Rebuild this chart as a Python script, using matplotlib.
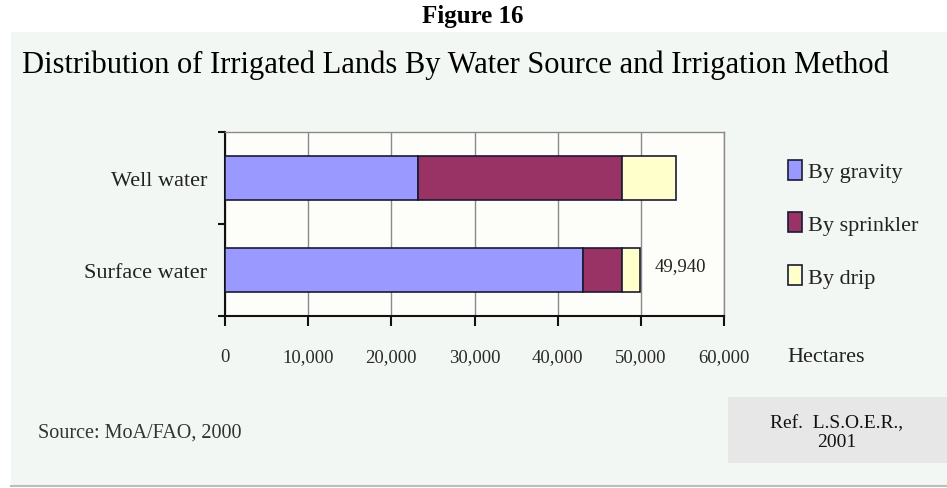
import matplotlib
matplotlib.use("Agg")
import matplotlib.pyplot as plt
from matplotlib.patches import Rectangle, Patch
from matplotlib.lines import Line2D
from matplotlib.ticker import FuncFormatter, FixedLocator

# Irrigated area (hectares) by water source and irrigation method
sources = ["Well water", "Surface water"]
methods = ["By gravity", "By sprinkler", "By drip"]
gravity = [23200, 43050]
sprinkler = [24500, 4650]
drip = [6500, 2240]
surface_total_label = "49,940"
x_ticks = [0, 10000, 20000, 30000, 40000, 50000, 60000]

colors = ["#9999FF", "#993366", "#FFFFCC"]
serif = ["Liberation Serif", "DejaVu Serif"]

W, H = 947, 489
fig = plt.figure(figsize=(W / 100, H / 100), dpi=100)
fig.patch.set_facecolor("white")


def fx(px):
    return px / W


def fy(py):
    return 1 - py / H


# light panel behind the chart
fig.patches.append(Rectangle((fx(11), fy(486)), fx(947) - fx(11), fy(33) - fy(486),
                             transform=fig.transFigure, facecolor="#F3F7F4",
                             edgecolor="none", zorder=-10))
fig.lines.append(Line2D([fx(11), 1], [fy(486.5), fy(486.5)], transform=fig.transFigure,
                        color="#BDBDBD", lw=1.5, zorder=-9))
# reference box
fig.patches.append(Rectangle((fx(728), fy(464)), fx(947) - fx(728), fy(398) - fy(464),
                             transform=fig.transFigure, facecolor="#E7E7E7",
                             edgecolor="none", zorder=-9))

ax = fig.add_axes([fx(225), fy(317), fx(724) - fx(225), fy(133) - fy(317)])
ax.set_zorder(1)
ax.set_facecolor("#FDFDF9")

ypos = [1, 0]
left = [0, 0]
for vals, col, lab in zip([gravity, sprinkler, drip], colors, methods):
    ax.barh(ypos, vals, left=left, height=0.48, color=col, edgecolor="#1A1A33",
            linewidth=1.2, label=lab, zorder=3)
    left = [a + b for a, b in zip(left, vals)]

ax.annotate(surface_total_label, xy=(left[1], ypos[1]), xytext=(10, 3),
            textcoords="offset points", ha="left", va="center",
            fontsize=13.5, family=serif, color="#222222")

ax.set_xlim(0, 60000)
ax.set_ylim(-0.5, 1.5)
ax.xaxis.set_major_locator(FixedLocator(x_ticks))
ax.xaxis.set_major_formatter(FuncFormatter(lambda v, p: f"{int(v):,}"))
ax.grid(axis="x", color="#8A8A8A", lw=1.0, zorder=1)
ax.set_axisbelow(True)

ax.yaxis.set_major_locator(FixedLocator([-0.5, 0.5, 1.5]))
ax.yaxis.set_major_formatter(FuncFormatter(lambda v, p: ""))
ax.yaxis.set_minor_locator(FixedLocator(ypos))
ax.set_yticklabels(sources, minor=True)
ax.tick_params(axis="y", which="major", direction="out", length=5, width=1.5, color="#111111")
ax.tick_params(axis="y", which="minor", length=0, pad=13)
ax.tick_params(axis="x", direction="out", length=7, width=1.5, color="#111111", pad=16)

for lbl in ax.get_yticklabels(minor=True):
    lbl.set_fontsize(16)
    lbl.set_family(serif)
    lbl.set_color("#222222")
for lbl in ax.get_xticklabels():
    lbl.set_fontsize(13.5)
    lbl.set_family(serif)
    lbl.set_color("#2A2A2A")

for side in ["left", "bottom"]:
    ax.spines[side].set_color("#111111")
    ax.spines[side].set_linewidth(1.5)
for side in ["top", "right"]:
    ax.spines[side].set_color("#8A8A8A")
    ax.spines[side].set_linewidth(1.0)

handles = [Patch(facecolor=c, edgecolor="#1A1A33", linewidth=1.2) for c in colors]
leg = fig.legend(handles, methods, loc="upper left",
                 bbox_to_anchor=(fx(779), fy(152)), frameon=False,
                 prop={"family": serif, "size": 16},
                 handlelength=0.62, handleheight=1.0, handletextpad=0.3,
                 labelspacing=1.35, borderaxespad=0)
for t in leg.get_texts():
    t.set_color("#222222")

fig.text(fx(787), fy(357), "Hectares", ha="left", va="center",
         fontsize=16, family=serif, color="#222222")

fig.text(fx(473), fy(16), "Figure 16", ha="center", va="center",
         fontsize=18, fontweight="bold", family=serif, color="black")
fig.text(fx(455), fy(65), "Distribution of Irrigated Lands By Water Source and Irrigation Method",
         ha="center", va="center", fontsize=22, family=serif, color="black")

fig.text(fx(38), fy(433), "Source: MoA/FAO, 2000", ha="left", va="center",
         fontsize=14.5, family=serif, color="#333333")
fig.text(fx(837), fy(433), "Ref.  L.S.O.E.R.,\n2001", ha="center", va="center",
         fontsize=14, family=serif, color="#111111", linespacing=1.15)

fig.savefig("out.png", dpi=100, facecolor=fig.get_facecolor())
